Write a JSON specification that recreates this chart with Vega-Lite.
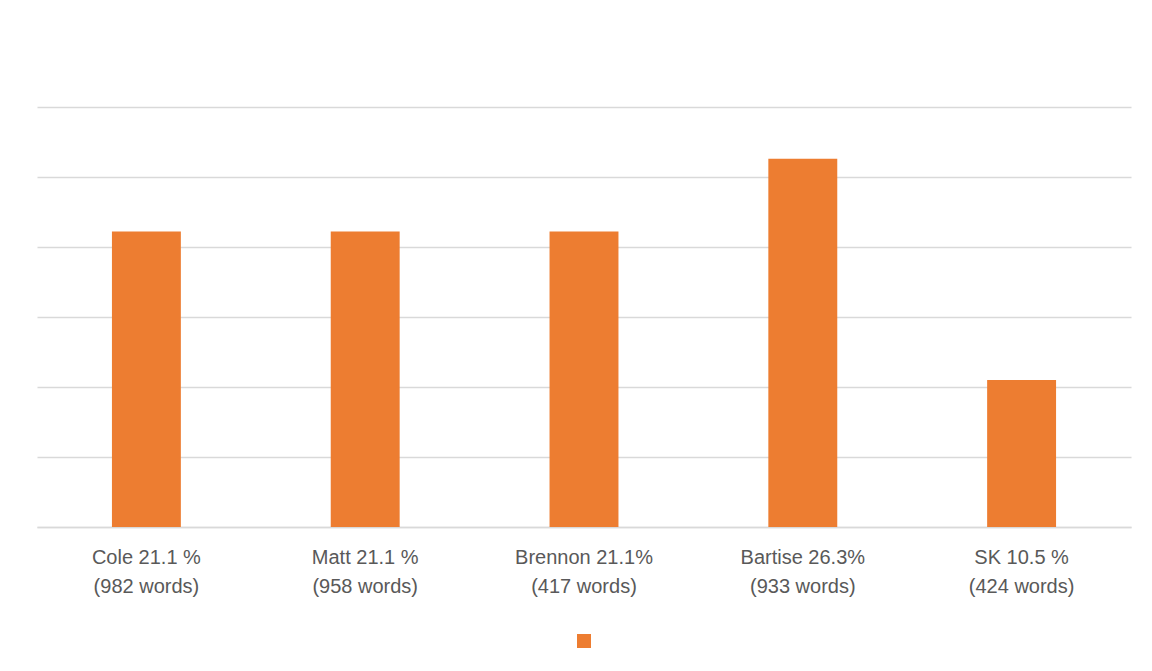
{
  "$schema": "https://vega.github.io/schema/vega-lite/v6.json",
  "width": 1094,
  "height": 420,
  "autosize": {"type": "none"},
  "padding": {"left": 37, "top": 107, "right": 21, "bottom": 144},
  "background": "#ffffff",
  "config": {
    "view": {"stroke": null},
    "font": "Liberation Sans"
  },
  "data": {
    "values": [
      {"member": "Cole 21.1 %\n(982 words)", "share": 21.1, "series": ""},
      {"member": "Matt 21.1 %\n(958 words)", "share": 21.1, "series": ""},
      {"member": "Brennon 21.1%\n(417 words)", "share": 21.1, "series": ""},
      {"member": "Bartise 26.3%\n(933 words)", "share": 26.3, "series": ""},
      {"member": "SK 10.5 %\n(424 words)", "share": 10.5, "series": ""}
    ]
  },
  "mark": {"type": "bar", "color": "#ED7D31"},
  "encoding": {
    "x": {
      "field": "member",
      "type": "nominal",
      "sort": null,
      "scale": {"paddingInner": 0.685, "paddingOuter": 0.3425},
      "axis": {
        "title": null,
        "labelAngle": 0,
        "labelExpr": "split(datum.label, '\\n')",
        "labelFont": "Liberation Sans",
        "labelFontSize": 20,
        "labelColor": "#595959",
        "labelLineHeight": 29,
        "labelPadding": 20,
        "labelBaseline": "top",
        "ticks": false,
        "domainColor": "#d9d9d9",
        "domainWidth": 1.5
      }
    },
    "y": {
      "field": "share",
      "type": "quantitative",
      "scale": {"domain": [0, 30]},
      "axis": {
        "title": null,
        "labels": false,
        "ticks": false,
        "domain": false,
        "values": [0, 5, 10, 15, 20, 25, 30],
        "gridColor": "#d9d9d9",
        "gridWidth": 1.5
      }
    },
    "color": {
      "field": "series",
      "type": "nominal",
      "scale": {"range": ["#ED7D31"]},
      "legend": {
        "title": null,
        "orient": "none",
        "legendX": 540,
        "legendY": 527,
        "symbolType": "square",
        "symbolSize": 196,
        "symbolStrokeWidth": 0,
        "padding": 0,
        "labelFontSize": 1
      }
    }
  }
}
